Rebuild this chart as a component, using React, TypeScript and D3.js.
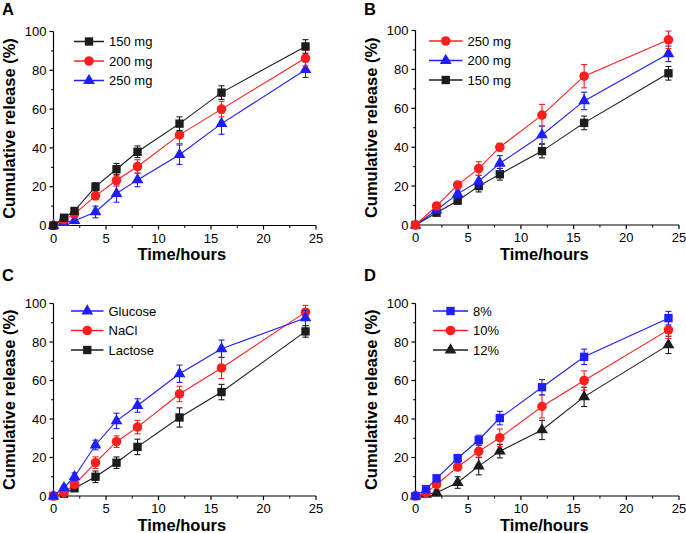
import React from "react";
import * as d3 from "d3";

// ---------- data ----------
const timesA = [0, 1, 2, 4, 6, 8, 12, 16, 24];
const timesB = [0, 2, 4, 6, 8, 12, 16, 24];
const timesC = [0, 1, 2, 4, 6, 8, 12, 16, 24];
const timesD = [0, 1, 2, 4, 6, 8, 12, 16, 24];

const a150 = [0, 4, 7.5, 20, 29, 38, 52.5, 68.5, 92.3];
const a150Err = [0, 1, 1.5, 2, 3, 3, 3.5, 3.5, 3.5];
const a200 = [0, 3, 6, 15.3, 23.3, 30.4, 46.7, 60, 86.3];
const a200Err = [0, 1, 1.5, 2, 3, 3.5, 4.5, 4, 4];
const a250 = [0, 1.5, 2.5, 7, 16.5, 23.5, 36.5, 52.5, 80.3];
const a250Err = [0, 1, 1.5, 3, 4.5, 3.5, 5, 5.5, 4];

const b250 = [0, 9.8, 20.6, 29, 40, 56.5, 76.5, 95.2];
const b250Err = [0, 1.5, 1.5, 3.5, 2, 5.5, 6, 4.5];
const b200 = [0, 7.7, 16, 22.5, 31.7, 46.3, 63.8, 88];
const b200Err = [0, 1.5, 2, 3, 4, 4.5, 4.5, 4];
const b150 = [0, 6.3, 12.5, 20, 26.1, 38, 52.5, 78];
const b150Err = [0, 1, 1.5, 3, 3, 3.5, 3.5, 3.5];

const cGlucose = [0, 4.3, 10, 26.5, 39, 47, 63.5, 76.5, 92.5];
const cGlucoseErr = [0, 1, 2, 2.5, 4, 3.5, 4.5, 4.5, 4];
const cNaCl = [0, 1.7, 6, 17.3, 28.2, 35.8, 53, 66.5, 95.5];
const cNaClErr = [0, 1, 1.5, 3, 3, 3.5, 4, 5.5, 3.5];
const cLactose = [0, 1.2, 4, 10, 17.3, 25.5, 40.8, 54, 85.5];
const cLactoseErr = [0, 1, 1.5, 3, 3, 4, 5, 4, 3];

const d8 = [0, 3.5, 9.2, 19.6, 29.1, 40.5, 56.5, 72.3, 92.4];
const d8Err = [0, 1, 1.5, 2, 2.5, 3.5, 4, 4, 3.5];
const d10 = [0, 1.7, 6, 15.1, 23.2, 30.3, 46.5, 60, 86.3];
const d10Err = [0, 1, 1.5, 2, 3, 4.5, 6, 5, 4.5];
const d12 = [0, 0.9, 1.7, 7, 15.5, 23.3, 34.3, 51.5, 78.5];
const d12Err = [0, 1, 1.5, 3, 4.5, 3.5, 5, 5, 4.5];

const xTicks = [0, 5, 10, 15, 20, 25];
const yTicks = [0, 20, 40, 60, 80, 100];
const xLabel = "Time/hours";
const yLabel = "Cumulative release (%)";

// ---------- styles ----------
const BLACK = "#1c1c1c";
const RED = "#ff1e1e";
const BLUE = "#1e1eff";
const FONT = "'Liberation Sans', Arial, Helvetica, sans-serif";

type Shape = "square" | "circle" | "triangle";
type Series = { name: string; t: number[]; v: number[]; e: number[]; color: string; shape: Shape };
type Panel = {
  letter: string;
  axisX: number;
  top: number;
  bottom: number;
  right: number;
  letterX: number;
  letterY: number;
  legendX: number;
  legendTextX: number;
  legendY: number;
  series: Series[];
};

const panels: Panel[] = [
  {
    letter: "A", axisX: 53.5, top: 31.5, bottom: 225.5, right: 316,
    letterX: 2, letterY: 15, legendX: 74, legendTextX: 109, legendY: 41.5,
    series: [
      { name: "150 mg", t: timesA, v: a150, e: a150Err, color: BLACK, shape: "square" },
      { name: "200 mg", t: timesA, v: a200, e: a200Err, color: RED, shape: "circle" },
      { name: "250 mg", t: timesA, v: a250, e: a250Err, color: BLUE, shape: "triangle" },
    ],
  },
  {
    letter: "B", axisX: 415.5, top: 30.5, bottom: 225, right: 679,
    letterX: 364, letterY: 15, legendX: 429, legendTextX: 467.5, legendY: 41,
    series: [
      { name: "250 mg", t: timesB, v: b250, e: b250Err, color: RED, shape: "circle" },
      { name: "200 mg", t: timesB, v: b200, e: b200Err, color: BLUE, shape: "triangle" },
      { name: "150 mg", t: timesB, v: b150, e: b150Err, color: BLACK, shape: "square" },
    ],
  },
  {
    letter: "C", axisX: 53.5, top: 303.5, bottom: 496, right: 316,
    letterX: 2, letterY: 281, legendX: 71, legendTextX: 108.5, legendY: 311,
    series: [
      { name: "Glucose", t: timesC, v: cGlucose, e: cGlucoseErr, color: BLUE, shape: "triangle" },
      { name: "NaCl", t: timesC, v: cNaCl, e: cNaClErr, color: RED, shape: "circle" },
      { name: "Lactose", t: timesC, v: cLactose, e: cLactoseErr, color: BLACK, shape: "square" },
    ],
  },
  {
    letter: "D", axisX: 415.5, top: 303.5, bottom: 496, right: 679,
    letterX: 364, letterY: 281, legendX: 433, legendTextX: 473, legendY: 311,
    series: [
      { name: "8%", t: timesD, v: d8, e: d8Err, color: BLUE, shape: "square" },
      { name: "10%", t: timesD, v: d10, e: d10Err, color: RED, shape: "circle" },
      { name: "12%", t: timesD, v: d12, e: d12Err, color: BLACK, shape: "triangle" },
    ],
  },
];

const symbolPath = (shape: Shape) => {
  const type = shape === "square" ? d3.symbolSquare : shape === "circle" ? d3.symbolCircle : d3.symbolTriangle;
  const size = shape === "square" ? 70 : shape === "circle" ? 72 : 60;
  return d3.symbol().type(type).size(size)() as string;
};

function PanelView({ p }: { p: Panel }) {
  const x = d3.scaleLinear().domain([0, 25]).range([p.axisX, p.right]);
  const y = d3.scaleLinear().domain([0, 100]).range([p.bottom, p.top]);
  const xMinor = d3.range(2.5, 25, 5);
  const yMinor = d3.range(10, 100, 20);
  const cap = 3;
  const drawOrder = [...p.series].reverse();
  return (
    <g>
      <text x={p.letterX} y={p.letterY} fontFamily={FONT} fontWeight="bold" fontSize={16.5}>{p.letter}</text>
      {/* axes */}
      <line x1={p.axisX} x2={p.axisX} y1={p.top} y2={p.bottom} stroke="#000" strokeWidth={1.2} />
      <line x1={p.axisX} x2={p.right} y1={p.bottom} y2={p.bottom} stroke="#000" strokeWidth={1.2} />
      {xTicks.map((t) => (
        <g key={"xt" + t}>
          <line x1={x(t)} x2={x(t)} y1={p.bottom} y2={p.bottom + 4} stroke="#000" strokeWidth={1.2} />
          <text x={x(t)} y={p.bottom + 17} textAnchor="middle" fontFamily={FONT} fontSize={13}>{t}</text>
        </g>
      ))}
      {xMinor.map((t) => (
        <line key={"xm" + t} x1={x(t)} x2={x(t)} y1={p.bottom} y2={p.bottom + 2.5} stroke="#000" strokeWidth={1} />
      ))}
      {yTicks.map((t) => (
        <g key={"yt" + t}>
          <line x1={p.axisX - 4} x2={p.axisX} y1={y(t)} y2={y(t)} stroke="#000" strokeWidth={1.2} />
          <text x={p.axisX - 7} y={y(t) + 4.6} textAnchor="end" fontFamily={FONT} fontSize={13}>{t}</text>
        </g>
      ))}
      {yMinor.map((t) => (
        <line key={"ym" + t} x1={p.axisX - 2.5} x2={p.axisX} y1={y(t)} y2={y(t)} stroke="#000" strokeWidth={1} />
      ))}
      <text x={(p.axisX + p.right) / 2 - 3} y={p.bottom + 34.5} textAnchor="middle" fontFamily={FONT} fontWeight="bold" fontSize={16.5}>{xLabel}</text>
      <text transform={`translate(${p.axisX - 39},${(p.top + p.bottom) / 2}) rotate(-90)`} textAnchor="middle" fontFamily={FONT} fontWeight="bold" fontSize={16.5}>{yLabel}</text>
      {/* series */}
      {drawOrder.map((s) => {
        const path = d3.line<number>().x((_, i) => x(s.t[i])).y((d) => y(d))(s.v) as string;
        return (
          <g key={s.name}>
            <path d={path} fill="none" stroke={s.color} strokeWidth={1.1} />
            {s.v.map((v, i) =>
              s.e[i] > 0 ? (
                <g key={"e" + i} stroke={s.color} strokeWidth={1.1}>
                  <line x1={x(s.t[i])} x2={x(s.t[i])} y1={y(v - s.e[i])} y2={y(v + s.e[i])} />
                  <line x1={x(s.t[i]) - cap} x2={x(s.t[i]) + cap} y1={y(v + s.e[i])} y2={y(v + s.e[i])} />
                  <line x1={x(s.t[i]) - cap} x2={x(s.t[i]) + cap} y1={y(v - s.e[i])} y2={y(v - s.e[i])} />
                </g>
              ) : null
            )}
            {s.v.map((v, i) => (
              <path key={"m" + i} d={symbolPath(s.shape)} transform={`translate(${x(s.t[i])},${y(v)})`} fill={s.color} />
            ))}
          </g>
        );
      })}
      {/* legend */}
      {p.series.map((s, i) => {
        const ly = p.legendY + i * 19.5;
        const lx2 = p.legendTextX - 5;
        return (
          <g key={"lg" + s.name}>
            <line x1={p.legendX} x2={lx2} y1={ly} y2={ly} stroke={s.color} strokeWidth={1.5} />
            <path d={symbolPath(s.shape)} transform={`translate(${(p.legendX + lx2) / 2},${ly})`} fill={s.color} />
            <text x={p.legendTextX} y={ly + 4.7} fontFamily={FONT} fontSize={13}>{s.name}</text>
          </g>
        );
      })}
    </g>
  );
}

export default function App() {
  return (
    <svg width={686} height={533} style={{ position: "absolute", left: 0, top: 0, background: "#fff" }}>
      <rect width={686} height={533} fill="#fff" />
      {panels.map((p) => (
        <PanelView key={p.letter} p={p} />
      ))}
    </svg>
  );
}
